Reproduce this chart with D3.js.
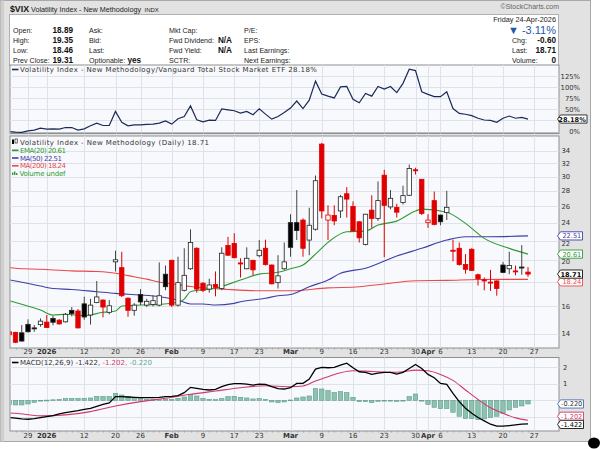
<!DOCTYPE html>
<html>
<head>
<meta charset="utf-8">
<script src="https://cdn.jsdelivr.net/npm/d3@7"></script>
<style>
  body { margin: 0; background: #fff; }
  svg { display: block; }
</style>
</head>
<body>
<svg id="chart" width="600" height="449"></svg>
<script>
// --- DATA ---

// trading days shown, Dec 23 is only a sliver at the left edge
var daysDec = [23, 24, 26, 29, 30, 31];
var daysJan = [2, 5, 6, 7, 8, 9, 12, 13, 14, 15, 16, 20, 21, 22, 23, 26, 27, 28, 29, 30];
var daysFeb = [2, 3, 4, 5, 6, 9, 10, 11, 12, 13, 17, 18, 19, 20, 23, 24, 25, 26, 27];
var daysMar = [2, 3, 4, 5, 6, 9, 10, 11, 12, 13, 16, 17, 18, 19, 20, 23, 24, 25, 26, 27, 30, 31];
var daysApr = [1, 2, 6, 7, 8, 9, 10, 13, 14, 15, 16, 17, 20, 21, 22, 23, 24];

var open  = [14.15, 14.11, 14.08, 14.67, 14.42, 14.65, 14.83, 15.1, 14.97, 14.85,
             15.7, 15.65, 16.2, 15.35, 16.3, 16.5, 15.55, 19.85, 19.3, 16.65,
             15.7, 16.95, 16.1, 16.15, 16.1, 18.7, 20.0, 16.1, 17.3, 19.2,
             21.2, 17.9, 17.4, 17.8, 17.45, 21.5, 21.7, 19.75, 19.2, 20.0,
             20.45, 21.2, 19.55, 17.95, 19.2, 24.0, 24.0, 24.3, 22.06, 23.25,
             35.1, 24.3, 24.85, 25.4, 27.6, 25.95, 24.1, 21.6, 25.5, 24.5,
             30.2, 25.9, 25.85, 26.45, 27.4, 31.0, 29.6, 24.0, 26.7, 24.9,
             25.2, 21.0, 21.2, 19.6, 21.1, 18.65, 18.2, 18.0, 18.1, 19.55,
             19.2, 19.0, 19.36, 18.89];
var high  = [14.3, 14.15, 14.62, 15.03, 14.62, 15.1, 15.35, 15.3, 15.05, 15.5,
             15.95, 15.8, 16.77, 16.6, 18.09, 16.55, 16.5, 20.95, 20.84, 16.7,
             16.25, 17.4, 16.6, 16.9, 19.8, 19.5, 20.05, 20.35, 21.2, 23.24,
             21.3, 18.0, 18.3, 18.95, 21.3, 22.4, 22.8, 20.2, 21.3, 20.05,
             22.06, 22.1, 19.6, 20.5, 21.8, 25.0, 28.1, 24.5, 25.8, 30.15,
             35.3, 26.1, 26.1, 27.45, 28.5, 26.6, 24.15, 25.05, 27.4, 29.3,
             31.0, 28.1, 26.3, 28.7, 31.8, 31.3, 29.65, 25.0, 27.9, 24.95,
             28.0, 22.1, 21.8, 20.6, 21.2, 18.75, 18.4, 19.1, 18.15, 19.85,
             20.85, 19.5, 21.53, 19.35];
var low   = [13.9, 13.4, 13.5, 14.1, 14.15, 14.5, 14.43, 14.6, 14.65, 14.8,
             15.25, 14.38, 15.0, 14.65, 16.25, 15.18, 15.4, 18.95, 16.75, 15.22,
             15.3, 16.1, 15.95, 16.0, 16.0, 17.3, 15.95, 16.0, 17.2, 19.1,
             17.1, 17.15, 17.1, 16.8, 17.3, 20.45, 20.2, 18.4, 19.15, 18.6,
             20.3, 19.5, 17.8, 17.45, 19.1, 20.35, 22.06, 20.35, 20.5, 23.1,
             24.5, 22.06, 23.7, 24.55, 24.6, 23.0, 21.8, 21.5, 23.4, 24.2,
             20.3, 25.6, 24.6, 26.2, 27.3, 30.3, 24.9, 23.4, 23.7, 23.7,
             24.3, 19.9, 19.5, 18.75, 19.0, 17.7, 17.3, 17.25, 16.85, 18.8,
             18.7, 18.6, 18.65, 18.46];
var close = [13.95, 13.45, 13.53, 14.15, 14.35, 14.9, 14.45, 14.82, 14.7, 15.4,
             15.45, 14.42, 15.2, 16.1, 16.75, 15.95, 16.05, 20.05, 16.85, 15.7,
             16.1, 16.35, 16.4, 16.45, 16.85, 17.6, 16.1, 17.95, 18.6, 21.8,
             17.4, 17.3, 17.75, 17.55, 20.7, 20.5, 20.25, 19.65, 20.2, 19.1,
             21.0, 19.6, 17.85, 18.55, 19.85, 21.3, 23.1, 21.2, 23.7, 29.4,
             25.4, 24.9, 24.2, 27.2, 26.9, 23.05, 22.3, 25.0, 24.5, 26.7,
             26.1, 27.0, 25.25, 27.35, 31.2, 30.85, 25.1, 24.3, 23.8, 24.1,
             25.85, 20.9, 19.6, 19.15, 19.05, 18.3, 18.1, 17.95, 17.45, 18.85,
             19.5, 18.95, 19.31, 18.71];

// moving averages as [day index, value] points
var ema20 = [[0, 16.45], [1, 16.3], [5, 15.72], [7, 15.35], [9, 15.4], [12, 15.3], [15, 15.55], [17, 15.65],
             [18, 16.03], [21, 16.11], [24, 16.16], [27, 16.32], [28, 16.58], [29, 17.18], [33, 17.47],
             [37, 18.18], [40, 18.71], [43, 18.87], [45, 19.2], [47, 19.55], [49, 20.61], [51, 21.82],
             [54, 22.97], [57, 23.04], [59, 23.72], [62, 24.18], [65, 25.39], [66, 25.63], [70, 25.23],
             [73, 23.92], [76, 22.24], [80, 21.19], [83, 20.61]];
var ma50  = [[0, 18.2], [1, 18.1], [5, 17.66], [7, 17.45], [10, 17.37], [14, 17.18], [17, 17.04], [21, 16.91],
             [24, 16.77], [27, 16.5], [29, 16.19], [31, 16.19], [33, 16.11], [36, 16.24], [37, 16.37],
             [41, 16.64], [43, 16.85], [45, 16.95], [48, 17.6], [51, 18.18], [53, 18.78], [57, 19.25],
             [62, 20.42], [66, 21.2], [70, 22.06], [73, 22.42], [77, 22.42], [83, 22.51]];
var ma200 = [[0, 19.3], [1, 19.25], [5, 19.15], [10, 19.0], [14, 18.94], [17, 18.79], [19, 18.57], [22, 18.26],
             [24, 18.0], [27, 17.78], [29, 17.62], [35, 17.37], [40, 17.26], [45, 17.26], [51, 17.5],
             [56, 17.6], [60, 17.84], [65, 18.12], [70, 18.15], [75, 18.22], [83, 18.24]];

// $VIX / VTI relative line, percent
var ratio = [0, -1.5, -2, 1.5, 3, 7.6, 5.3, 6, 5.3, 9, 9,
             3, 6, 12.9, 19, 13.6, 13.6, 45.5, 21, 13, 15,
             15, 16, 16.7, 19, 24, 16.7, 29, 34, 58, 26.5,
             22, 25.8, 25, 51, 49, 47, 41.7, 45.5, 38, 51.5,
             39.4, 28, 34, 43, 53, 69, 52, 71, 114, 85,
             80, 76, 101, 102, 73, 65, 86, 80, 102, 96,
             102, 88, 109, 141, 138, 90, 84, 79, 79, 90,
             52, 41, 39, 36, 30, 26, 25, 21, 30, 35,
             30, 32, 28.18];

// MACD(12,26,9)
var macdLine = [-1.04, -1.08, -1.12, -1.14, -1.1, -1.04, -0.98, -0.92, -0.82, -0.74, -0.68,
                -0.62, -0.55, -0.48, -0.36, -0.24, -0.16, 0.22, 0.22, 0.2, 0.18,
                0.16, 0.16, 0.16, 0.18, 0.22, 0.24, 0.28, 0.46, 0.78, 0.72,
                0.66, 0.62, 0.66, 0.82, 0.94, 1.0, 1.0, 0.98, 0.92, 0.98,
                0.96, 0.82, 0.7, 0.68, 0.76, 1.02, 1.02, 1.28, 1.88, 1.98,
                1.96, 1.98, 2.12, 2.24, 1.96, 1.72, 1.68, 1.56, 1.64, 1.68,
                1.68, 1.58, 1.68, 1.92, 2.16, 1.92, 1.56, 1.36, 1.02, 0.96,
                0.42, -0.08, -0.48, -0.78, -1.04, -1.24, -1.44, -1.56, -1.56, -1.52,
                -1.48, -1.44, -1.422];
var macdHist = [-0.26, -0.28, -0.28, -0.22, -0.12, -0.03, 0.01, 0.03, 0.06, 0.1, 0.12,
                0.12, 0.12, 0.14, 0.24, 0.24, 0.22, 0.42, 0.32, 0.24, 0.16,
                0.1, 0.06, 0.04, 0.04, 0.06, 0.06, 0.12, 0.2, 0.36, 0.26,
                0.12, 0.06, 0.04, 0.1, 0.22, 0.24, 0.18, 0.14, 0.08, 0.1,
                0.06, -0.1, -0.14, -0.1, 0.02, 0.14, 0.2, 0.26, 0.7, 0.68,
                0.58, 0.46, 0.52, 0.46, 0.18, -0.08, -0.08, -0.14, -0.06, -0.04,
                -0.02, -0.06, -0.02, 0.22, 0.38, -0.02, -0.24, -0.42, -0.5, -0.5,
                -0.72, -0.96, -1.1, -1.1, -1.16, -1.12, -1.04, -0.96, -0.8, -0.58,
                -0.42, -0.34, -0.22];
var macdSignal = [[0, -0.76], [1, -0.78], [5, -0.94], [9, -0.88], [13, -0.68], [17, -0.34], [21, -0.08],
                  [25, 0.12], [29, 0.36], [33, 0.56], [37, 0.76], [41, 0.88], [45, 0.82], [47, 0.86],
                  [49, 1.16], [51, 1.42], [53, 1.66], [55, 1.78], [57, 1.76], [59, 1.72], [61, 1.68],
                  [63, 1.72], [65, 1.82], [67, 1.78], [69, 1.56], [71, 1.2], [73, 0.62], [75, 0.05],
                  [77, -0.45], [79, -0.78], [81, -1.06], [83, -1.202]];

// date axis labels (27 Apr is the next trading day after the data)
var tickDates  = ["2025-12-29", "2026-01-02", "2026-01-12", "2026-01-20", "2026-01-26", "2026-02-02",
                  "2026-02-09", "2026-02-17", "2026-02-23", "2026-03-02", "2026-03-09", "2026-03-16",
                  "2026-03-23", "2026-03-30", "2026-04-01", "2026-04-06", "2026-04-13", "2026-04-20",
                  "2026-04-27"];
var tickLabels = ["29", "2026", "12", "20", "26", "Feb", "9", "17", "23", "Mar", "9", "16", "23", "30",
                  "Apr", "6", "13", "20", "27"];
var priceTicks = [14, 16, 18, 20, 22, 24, 26, 28, 30, 32, 34];
var ratioTicks = [0, 25, 50, 75, 100, 125];
var macdTicks  = [-1, 0, 1, 2];

// --- SETUP ---
var svg = d3.select("#chart");
var FONT = "DejaVu Sans, Verdana, sans-serif";
var HFONT = "Liberation Sans, Arial, sans-serif";

var plotL = 10, plotR = 559;
var ratioTop = 65, ratioBot = 133.5;
var mainTop = 136, mainBot = 348;
var macdTop = 357.5, macdBot = 431;

var colRed = "#e00000", colEma = "#2f9a35", colMa50 = "#3f3fa8", colMa200 = "#e8494b";
var colRatio = "#1c2a58", colSignal = "#d03a6a", colHist = "#8cc3b0", colHistEdge = "#5c9a87";

function pad(n) { return n < 10 ? "0" + n : "" + n; }
var dates = [];
[["2025-12", daysDec], ["2026-01", daysJan], ["2026-02", daysFeb], ["2026-03", daysMar], ["2026-04", daysApr]]
  .forEach(function (m) { m[1].forEach(function (d) { dates.push(m[0] + "-" + pad(d)); }); });

var x = d3.scaleLinear().domain([1, 83]).range([15.5, 528]);
var yPrice = d3.scaleLog().domain([14, 34]).range([334, 150.7]);
var yRatio = d3.scaleLinear().domain([0, 125]).range([131.5, 76.3]);
var yMacd = d3.scaleLinear().domain([-1, 2]).range([416.9, 367.1]);

function dateX(d) {
  var i = dates.indexOf(d);
  return x(i < 0 ? dates.length : i);
}

// --- FRAME ---
svg.append("rect").attr("x", 0.5).attr("y", 0.5).attr("width", 590).attr("height", 441)
  .attr("fill", "#e2e2e2").attr("stroke", "#a8a8a8");
svg.append("rect").attr("x", 0.5).attr("y", 0.5).attr("width", 3.5).attr("height", 441).attr("fill", "#cfcfcf");

// black blob bottom right
svg.append("ellipse").attr("cx", 594).attr("cy", 443).attr("rx", 6).attr("ry", 5.5).attr("fill", "#000");

// --- HEADER ---
var hdr = svg.append("g");
hdr.append("text").attr("x", 10).attr("y", 12).attr("font-family", HFONT).attr("font-size", 9.5)
  .attr("font-weight", "bold").attr("fill", "#111")
  .attr("textLength", 19).attr("lengthAdjust", "spacingAndGlyphs").text("$VIX");
hdr.append("text").attr("x", 31).attr("y", 11.5).attr("font-family", HFONT).attr("font-size", 7.2)
  .attr("fill", "#222").attr("textLength", 110).attr("lengthAdjust", "spacingAndGlyphs")
  .text("Volatility Index - New Methodology");
hdr.append("text").attr("x", 144.5).attr("y", 11.5).attr("font-family", HFONT).attr("font-size", 6)
  .attr("fill", "#222").text("INDX");
hdr.append("text").attr("x", 559).attr("y", 9).attr("text-anchor", "end").attr("font-family", HFONT)
  .attr("font-size", 7).attr("fill", "#666").text("©StockCharts.com");

hdr.append("rect").attr("x", 9.5).attr("y", 14.5).attr("width", 549).attr("height", 51)
  .attr("fill", "#fff").attr("stroke", "#b0b0b0");

var rowsY = [33, 43.3, 53.3, 63.3];
function hLabel(xp, yp, t) {
  hdr.append("text").attr("x", xp).attr("y", yp).attr("font-family", HFONT).attr("font-size", 7.1)
    .attr("fill", "#222").text(t);
}
function hValue(xp, yp, t, anchor) {
  hdr.append("text").attr("x", xp).attr("y", yp).attr("text-anchor", anchor || "end").attr("font-family", HFONT)
    .attr("font-size", 8.2).attr("font-weight", "bold").attr("fill", "#111").text(t);
}
["Open:", "High:", "Low:", "Prev Close:"].forEach(function (t, i) { hLabel(13, rowsY[i], t); });
["18.89", "19.35", "18.46"].forEach(function (t, i) { hValue(73, rowsY[i], t); });
hValue(52.5, rowsY[3], "19.31", "start");
["Ask:", "Bid:", "Last:", "Optionable:"].forEach(function (t, i) { hLabel(89, rowsY[i], t); });
hValue(127.5, rowsY[3], "yes", "start");
["Mkt Cap:", "Fwd Dividend:", "Fwd Yield:", "SCTR:"].forEach(function (t, i) { hLabel(169, rowsY[i], t); });
hValue(232, rowsY[1], "N/A");
hValue(232, rowsY[2], "N/A");
["P/E:", "EPS:", "Last Earnings:", "Next Earnings:"].forEach(function (t, i) { hLabel(244, rowsY[i], t); });

hdr.append("text").attr("x", 556).attr("y", 22).attr("text-anchor", "end").attr("font-family", HFONT)
  .attr("font-size", 7.3).attr("fill", "#222").text("Friday 24-Apr-2026");
hdr.append("text").attr("x", 556).attr("y", 34).attr("text-anchor", "end").attr("font-family", HFONT)
  .attr("font-size", 11).attr("fill", "#2458a8").text("▼ -3.11%");
["Chg:", "Last:", "Volume:"].forEach(function (t, i) { hLabel(512, rowsY[i + 1], t); });
["-0.60", "18.71", "0"].forEach(function (t, i) { hValue(556, rowsY[i + 1], t); });

// --- PANELS ---
function panel(top, bot) {
  svg.append("rect").attr("x", plotL).attr("y", top).attr("width", plotR - plotL).attr("height", bot - top)
    .attr("fill", "#f8f9fc").attr("stroke", "#8f8f8f").attr("stroke-width", 1);
}
panel(ratioTop, ratioBot);
panel(mainTop, mainBot);
panel(macdTop, macdBot);

var defs = svg.append("defs");
function clip(id, top, bot) {
  defs.append("clipPath").attr("id", id).append("rect")
    .attr("x", plotL + 0.5).attr("y", top + 0.5).attr("width", plotR - plotL - 1).attr("height", bot - top - 1);
}
clip("clipRatio", ratioTop, ratioBot);
clip("clipMain", mainTop, mainBot);
clip("clipMacd", macdTop, macdBot);

// grid
var grid = svg.append("g").attr("stroke", "#dfe2e8").attr("stroke-width", 1);
[[ratioTop, ratioBot], [mainTop, mainBot], [macdTop, macdBot]].forEach(function (p) {
  tickDates.forEach(function (d) {
    var xx = Math.round(dateX(d)) + 0.5;
    if (xx < plotR) grid.append("line").attr("x1", xx).attr("x2", xx).attr("y1", p[0]).attr("y2", p[1]);
  });
});
priceTicks.forEach(function (v) {
  var yy = Math.round(yPrice(v)) + 0.5;
  grid.append("line").attr("x1", plotL).attr("x2", plotR).attr("y1", yy).attr("y2", yy);
});
ratioTicks.forEach(function (v) {
  var yy = Math.round(yRatio(v)) + 0.5;
  grid.append("line").attr("x1", plotL).attr("x2", plotR).attr("y1", yy).attr("y2", yy)
    .attr("stroke", v === 0 ? "#b8bcc4" : null);
});
macdTicks.forEach(function (v) {
  var yy = Math.round(yMacd(v)) + 0.5;
  grid.append("line").attr("x1", plotL).attr("x2", plotR).attr("y1", yy).attr("y2", yy);
});

// --- RATIO PANEL ---
var gRatio = svg.append("g").attr("clip-path", "url(#clipRatio)");
gRatio.append("path")
  .datum(ratio)
  .attr("d", d3.line().x(function (d, i) { return x(i); }).y(function (d) { return yRatio(d); }))
  .attr("fill", "none").attr("stroke", colRatio).attr("stroke-width", 1.2);

// --- MAIN PANEL ---
var gMain = svg.append("g").attr("clip-path", "url(#clipMain)");
var lineGen = d3.line().x(function (d) { return x(d[0]); }).y(function (d) { return yPrice(d[1]); })
  .curve(d3.curveMonotoneX);
[[ma200, colMa200], [ma50, colMa50], [ema20, colEma]].forEach(function (s) {
  gMain.append("path").datum(s[0]).attr("d", lineGen)
    .attr("fill", "none").attr("stroke", s[1]).attr("stroke-width", 1.1);
});

var candles = close.map(function (c, i) {
  var prev = i > 0 ? close[i - 1] : open[i];
  return { i: i, o: open[i], h: high[i], l: low[i], c: c, down: c < prev, hollow: c > open[i] };
});
var bw = 4.4;
var cg = gMain.selectAll("g.candle").data(candles).enter().append("g").attr("class", "candle");
cg.append("line")
  .attr("x1", function (d) { return x(d.i); }).attr("x2", function (d) { return x(d.i); })
  .attr("y1", function (d) { return yPrice(d.h); }).attr("y2", function (d) { return yPrice(d.l); })
  .attr("stroke", function (d) { return d.down ? colRed : "#444"; }).attr("stroke-width", 1);
cg.append("rect")
  .attr("x", function (d) { return x(d.i) - bw / 2; })
  .attr("width", bw)
  .attr("y", function (d) { return yPrice(Math.max(d.o, d.c)); })
  .attr("height", function (d) { return Math.max(1, Math.abs(yPrice(d.o) - yPrice(d.c))); })
  .attr("fill", function (d) { return d.hollow ? "#fff" : (d.down ? colRed : "#000"); })
  .attr("stroke", function (d) { return d.down ? colRed : "#222"; })
  .attr("stroke-width", 0.8);

// --- MACD PANEL ---
var gMacd = svg.append("g").attr("clip-path", "url(#clipMacd)");
gMacd.selectAll("rect.hist").data(macdHist).enter().append("rect").attr("class", "hist")
  .attr("x", function (d, i) { return x(i) - 2.2; })
  .attr("width", 4.4)
  .attr("y", function (d) { return yMacd(Math.max(0, d)); })
  .attr("height", function (d) { return Math.max(0.8, Math.abs(yMacd(d) - yMacd(0))); })
  .attr("fill", colHist).attr("stroke", colHistEdge).attr("stroke-width", 0.6);
gMacd.append("path").datum(macdSignal)
  .attr("d", d3.line().x(function (d) { return x(d[0]); }).y(function (d) { return yMacd(d[1]); }).curve(d3.curveMonotoneX))
  .attr("fill", "none").attr("stroke", colSignal).attr("stroke-width", 1.1);
gMacd.append("path").datum(macdLine)
  .attr("d", d3.line().x(function (d, i) { return x(i); }).y(function (d) { return yMacd(d); }))
  .attr("fill", "none").attr("stroke", "#000").attr("stroke-width", 1.3);

// --- LEGENDS ---
var leg = svg.append("g").attr("font-family", FONT).attr("font-size", 7);
function legendLine(yc, color, t, len) {
  leg.append("line").attr("x1", 12).attr("x2", 18.5).attr("y1", yc).attr("y2", yc)
    .attr("stroke", color).attr("stroke-width", 1.6);
  var tx = leg.append("text").attr("x", 20).attr("y", yc + 2.5).attr("fill", color).text(t);
  if (len) tx.attr("textLength", len).attr("lengthAdjust", "spacing");
  return tx;
}
legendLine(69.5, colRatio, "Volatility Index - New Methodology/Vanguard Total Stock Market ETF 28.18%", 297)
  .attr("fill", "#333");
// candle icon + main title
leg.append("rect").attr("x", 12).attr("y", 139.5).attr("width", 2).attr("height", 4.5).attr("fill", "#000");
leg.append("rect").attr("x", 15).attr("y", 139).attr("width", 2.2).attr("height", 4).attr("fill", "#fff")
  .attr("stroke", "#000").attr("stroke-width", 0.6);
leg.append("text").attr("x", 20).attr("y", 144.7).attr("fill", "#333")
  .attr("textLength", 189).attr("lengthAdjust", "spacing")
  .text("Volatility Index - New Methodology (Daily) 18.71");
legendLine(150.3, colEma, "EMA(20) 20.61", 46);
legendLine(158, colMa50, "MA(50) 22.51", 42);
legendLine(165.8, colMa200, "MA(200) 18.24", 46);
[[12, 2.5], [14, 3.5], [16, 2]].forEach(function (b) {
  leg.append("rect").attr("x", b[0]).attr("y", 175 - b[1]).attr("width", 1.4).attr("height", b[1]).attr("fill", colEma);
});
leg.append("text").attr("x", 19.5).attr("y", 176).attr("fill", colEma)
  .attr("textLength", 46).attr("lengthAdjust", "spacing").text("Volume undef");

leg.append("line").attr("x1", 12).attr("x2", 18.5).attr("y1", 362.5).attr("y2", 362.5)
  .attr("stroke", "#000").attr("stroke-width", 1.6);
var mt = leg.append("text").attr("x", 20).attr("y", 365).attr("fill", "#333");
mt.append("tspan").text("MACD(12,26,9) -1.422, ");
mt.append("tspan").attr("fill", colSignal).text("-1.202, ");
mt.append("tspan").attr("fill", "#5aa898").text("-0.220");

// --- DATE AXIS ROWS ---
var ax = svg.append("g").attr("font-family", FONT).attr("font-size", 7).attr("fill", "#333");
[354.3, 438.3].forEach(function (yb) {
  tickDates.forEach(function (d, i) {
    var bold = isNaN(+tickLabels[i]) || tickLabels[i].length === 4;
    ax.append("text").attr("x", dateX(d)).attr("y", yb).attr("text-anchor", "middle")
      .attr("font-weight", bold ? "bold" : "normal").text(tickLabels[i]);
  });
});
// small day ticks under main and macd panels
[mainBot, macdBot].forEach(function (yb) {
  dates.forEach(function (d, i) {
    var xx = Math.round(x(i)) + 0.5;
    if (xx > plotL && xx < plotR)
      svg.append("line").attr("x1", xx).attr("x2", xx).attr("y1", yb).attr("y2", yb + 1.5)
        .attr("stroke", "#9a9a9a").attr("stroke-width", 0.8);
  });
});

// --- RIGHT AXES ---
// value tags on the right edge; tick labels that sit under a tag are hidden like on the site
var tags = [
  { y: yRatio(28.18), t: "28.18%", c: "#222", w: 29.5, tc: "#111", b: true },
  { y: yPrice(22.51), t: "22.51", c: colMa50, w: 25 },
  { y: yPrice(20.61), t: "20.61", c: colEma, w: 25 },
  { y: yPrice(18.24) + 2.5, t: "18.24", c: colMa200, w: 25 },
  { y: yPrice(18.71), t: "18.71", c: "#111", w: 25, tc: "#000", b: true },
  { y: yMacd(-0.22), t: "-0.220", c: "#4a6fb0", w: 26, tc: "#333" },
  { y: yMacd(-1.202) - 4, t: "-1.202", c: colSignal, w: 26, tc: colSignal },
  { y: yMacd(-1.422) + 0.5, t: "-1.422", c: "#111", w: 26, tc: "#000" }
];
function underTag(yy) {
  return tags.some(function (g) { return Math.abs(g.y - yy) < 4.6; });
}
// labels just next to a tag are pushed a little so the two texts do not touch
function clearOfTags(yy) {
  tags.forEach(function (g) {
    var dy = yy - g.y;
    if (Math.abs(dy) < 7.4) yy = g.y + (dy < 0 ? -7.4 : 7.4);
  });
  return yy;
}

var ra = svg.append("g").attr("font-family", FONT).attr("font-size", 6.8).attr("fill", "#333");
ratioTicks.forEach(function (v) {
  if (underTag(yRatio(v))) return;
  ra.append("text").attr("x", 580).attr("y", clearOfTags(yRatio(v)) + 2.4).attr("text-anchor", "end").text(v + "%");
});
priceTicks.forEach(function (v) {
  if (underTag(yPrice(v))) return;
  ra.append("text").attr("x", 561.5).attr("y", clearOfTags(yPrice(v)) + 2.4).text(v);
});
macdTicks.forEach(function (v) {
  if (underTag(yMacd(v))) return;
  ra.append("text").attr("x", 563).attr("y", clearOfTags(yMacd(v)) + 2.4).text(v);
});

tags.forEach(function (g) {
  var x0 = 557.5, h = 8.2;
  var tg = svg.append("g");
  tg.append("path")
    .attr("d", "M" + x0 + "," + g.y + " L" + (x0 + 3) + "," + (g.y - h / 2) + " H" + (x0 + g.w) +
      " V" + (g.y + h / 2) + " H" + (x0 + 3) + " Z")
    .attr("fill", "#fff").attr("stroke", g.c).attr("stroke-width", 0.9);
  tg.append("text").attr("x", x0 + g.w - 1.2).attr("y", g.y + 2.5).attr("text-anchor", "end")
    .attr("font-family", FONT).attr("font-size", 6.6).attr("font-weight", g.b ? "bold" : "normal")
    .attr("fill", g.tc || g.c).text(g.t);
});
</script>
</body>
</html>
